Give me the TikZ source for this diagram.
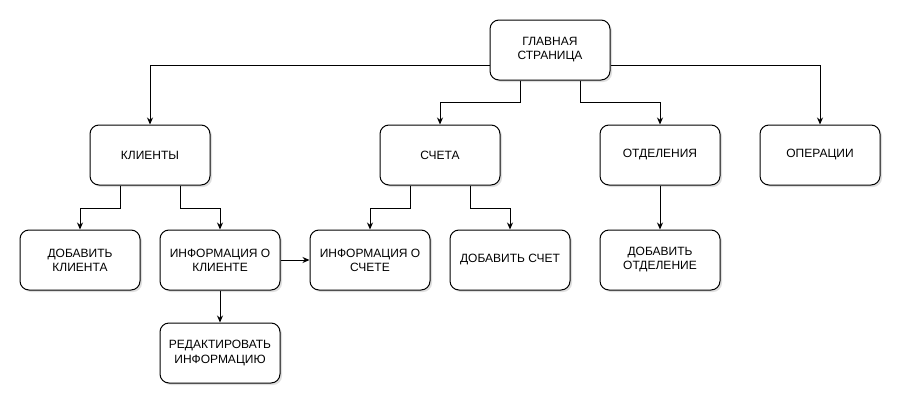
\documentclass[tikz,border=0pt]{standalone}
\usepackage{fontspec}
\setmainfont{Liberation Sans}
\usetikzlibrary{arrows.meta,shadows}
\begin{document}
\begin{tikzpicture}[x=1pt, y=-1pt, >={Stealth[length=7pt,width=6pt]}, line width=1pt,
	box/.style={draw, fill=white, rounded corners=9pt, minimum width=120pt, minimum height=60pt,
		align=center, font=\fontsize{12}{14}\selectfont,
		drop shadow={opacity=0.25, shadow xshift=2pt, shadow yshift=-2pt}}]
	% Frame
	\useasboundingbox (0,0) rectangle (912,415);
	
	% Top level
	\node[box] (main) at (550,50) {ГЛАВНАЯ\\СТРАНИЦА};
	
	% Sections
	\node[box] (clients) at (150,155) {КЛИЕНТЫ};
	\node[box] (accounts) at (440,155) {СЧЕТА};
	\node[box] (branches) at (660,155) {ОТДЕЛЕНИЯ};
	\node[box] (operations) at (820,155) {ОПЕРАЦИИ};
	
	% Sub pages
	\node[box] (addclient) at (80,260) {ДОБАВИТЬ\\КЛИЕНТА};
	\node[box] (clientinfo) at (220,260) {ИНФОРМАЦИЯ О\\КЛИЕНТЕ};
	\node[box] (accinfo) at (370,260) {ИНФОРМАЦИЯ О\\СЧЕТЕ};
	\node[box] (addacc) at (510,260) {ДОБАВИТЬ СЧЕТ};
	\node[box] (addbranch) at (660,260) {ДОБАВИТЬ\\ОТДЕЛЕНИЕ};
	\node[box] (editinfo) at (220,353) {РЕДАКТИРОВАТЬ\\ИНФОРМАЦИЮ};
	
	% Links from the main page
	\draw[->] ([yshift=-15pt]main.west) -| (clients.north);
	\draw[->] ([yshift=-15pt]main.east) -| (operations.north);
	\draw[->] ([xshift=-30pt]main.south) -- ++(0,22) -| (accounts.north);
	\draw[->] ([xshift=30pt]main.south) -- ++(0,22) -| (branches.north);
	
	% Links from the sections
	\draw[->] ([xshift=-30pt]clients.south) -- ++(0,23) -| (addclient.north);
	\draw[->] ([xshift=30pt]clients.south) -- ++(0,23) -| (clientinfo.north);
	\draw[->] ([xshift=-30pt]accounts.south) -- ++(0,23) -| (accinfo.north);
	\draw[->] ([xshift=30pt]accounts.south) -- ++(0,23) -| (addacc.north);
	\draw[->] (branches) -- (addbranch);
	
	% Client info
	\draw[->] (clientinfo) -- (accinfo);
	\draw[->] (clientinfo) -- (editinfo);
\end{tikzpicture}
\end{document}
